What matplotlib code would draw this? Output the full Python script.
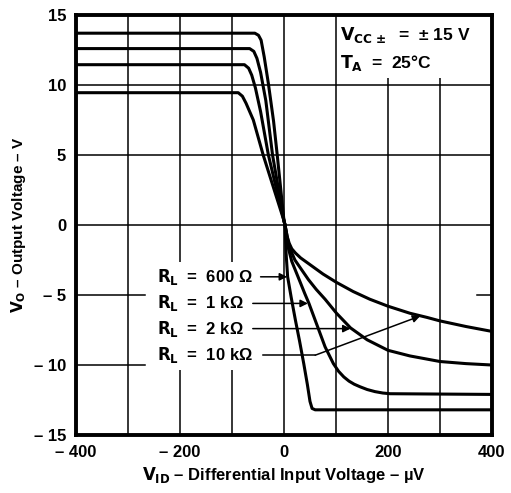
import matplotlib
matplotlib.use("Agg")
import matplotlib.pyplot as plt
from matplotlib.patches import Rectangle

# output voltage vs differential input voltage, four load resistances
rl_labels = ["600 Ω", "1 kΩ", "2 kΩ", "10 kΩ"]

vid_600 = [-400, -56, -49, -44, -38, -30, -20, -13, 0, 2, 4, 7, 14, 22, 30, 38, 45, 50, 54, 60, 400]
vo_600 = [13.7, 13.7, 13.55, 13.2, 12.0, 10.1, 7.4, 5.0, 0.3, 0, -2.0, -3.7, -5.2, -6.8, -8.3, -9.9, -11.4, -12.6, -13.1, -13.2, -13.2]

vid_1k = [-400, -66, -58, -52, -45, -35, -22, 0, 2, 8, 15, 27, 40, 48, 56, 65, 79, 95, 105, 115, 125, 135, 146, 160, 175, 190, 204, 400]
vo_1k = [12.6, 12.6, 12.4, 11.9, 10.9, 8.9, 5.0, 0.3, 0, -1.6, -2.6, -3.7, -4.9, -5.6, -6.4, -7.3, -8.7, -9.9, -10.45, -10.85, -11.15, -11.37, -11.55, -11.75, -11.9, -12.0, -12.05, -12.1]

vid_2k = [-400, -76, -68, -62, -55, -45, -30, 0, 2, 8, 14, 21, 34, 47, 62, 79, 101, 128, 160, 200, 242, 300, 350, 400]
vo_2k = [11.45, 11.45, 11.2, 10.7, 9.8, 8.1, 5.0, 0.3, 0, -1.2, -1.9, -2.5, -3.2, -3.9, -4.6, -5.3, -6.3, -7.35, -8.2, -8.95, -9.35, -9.75, -9.9, -10.0]

vid_10k = [-400, -88, -80, -73, -59, -40, 0, 2, 6, 10, 15, 22, 32, 47, 75, 101, 133, 165, 200, 242, 275, 300, 350, 400]
vo_10k = [9.45, 9.45, 9.2, 8.7, 7.5, 5.0, 0.3, 0, -0.8, -1.3, -1.7, -2.0, -2.35, -2.75, -3.5, -4.1, -4.75, -5.3, -5.8, -6.3, -6.6, -6.85, -7.25, -7.6]

x_ticks = [-400, -200, 0, 200, 400]
x_ticklabels = ["– 400", "– 200", "0", "200", "400"]
y_ticks = [-15, -10, -5, 0, 5, 10, 15]
y_ticklabels = ["– 15", "– 10", "– 5", "0", "5", "10", "15"]

fam = ["Liberation Sans Narrow", "Liberation Sans", "DejaVu Sans"]
plt.rcParams["font.family"] = fam
plt.rcParams["font.weight"] = "bold"
plt.rcParams["mathtext.fontset"] = "custom"
plt.rcParams["mathtext.rm"] = "Liberation Sans Narrow:bold"
plt.rcParams["mathtext.it"] = "Liberation Sans Narrow:bold"
plt.rcParams["mathtext.bf"] = "Liberation Sans Narrow:bold"

fig = plt.figure(figsize=(5.11, 4.93), dpi=100)
ax = fig.add_axes([0.1487, 0.1176, 0.8141, 0.852])

ax.set_xlim(-400, 400)
ax.set_ylim(-15, 15)

# grid (vertical every 100 uV, horizontal every 5 V)
for xv in range(-300, 400, 100):
    ax.axvline(xv, color="black", lw=1.1, zorder=1)
for yv in [10, 5, 0]:
    ax.axhline(yv, color="black", lw=1.1, zorder=1)
ax.axhline(-5, xmax=0.166, color="black", lw=1.1, zorder=1)
ax.axhline(-5, xmin=0.964, color="black", lw=1.1, zorder=1)
ax.axhline(-10, xmax=0.166, color="black", lw=1.1, zorder=1)

# white area behind the conditions text
ax.add_patch(Rectangle((0.64, 0.85), 0.36, 0.15, transform=ax.transAxes,
                       facecolor="white", edgecolor="none", zorder=2))

for xs, ys in [(vid_600, vo_600), (vid_1k, vo_1k), (vid_2k, vo_2k), (vid_10k, vo_10k)]:
    ax.plot(xs, ys, color="black", lw=2.2, solid_joinstyle="round",
            solid_capstyle="round", zorder=3)

# load labels with arrows
label_y = [-3.7, -5.6, -7.4, -9.3]
tip_x = [6, 46, 128, 262]
tip_y = [-3.7, -5.6, -7.4, -6.5]
start_x = [-45, -60, -60, -40]
for lab, ly, tx, ty, sx in zip(rl_labels, label_y, tip_x, tip_y, start_x):
    ax.text(-244, ly, r"$R_L$" + "  =  " + lab, ha="left", va="center",
            fontsize=12, zorder=4,
            bbox=dict(facecolor="white", edgecolor="none", pad=3.5))
    if lab == "10 kΩ":
        ax.plot([sx, 60], [ly, ly], color="black", lw=1.1, zorder=3)
        sx = 60
    ax.annotate("", xy=(tx, ty), xytext=(sx, ly),
                arrowprops=dict(arrowstyle="-|>", color="black", lw=1.1,
                                mutation_scale=11, shrinkA=0, shrinkB=0),
                zorder=4)

ax.text(0.635, 0.952, r"$V_{CC\,\pm}$" + "  =  ± 15 V", transform=ax.transAxes,
        ha="left", va="center", fontsize=12.5, zorder=4)
ax.text(0.635, 0.886, r"$T_A$" + "  =  25°C", transform=ax.transAxes,
        ha="left", va="center", fontsize=12.5, zorder=4)

ax.set_xticks(x_ticks)
ax.set_xticklabels(x_ticklabels)
ax.set_yticks(y_ticks)
ax.set_yticklabels(y_ticklabels)
ax.tick_params(length=0, labelsize=12, pad=7)
for lab in ax.get_xticklabels() + ax.get_yticklabels():
    lab.set_fontweight("bold")

for sp in ax.spines.values():
    sp.set_linewidth(2.8)
    sp.set_zorder(5)

ax.set_xlabel(r"$V_{ID}$" + " – Differential Input Voltage – µV", fontsize=12,
              fontweight="bold", labelpad=4)
ax.set_ylabel(r"$V_O$" + " – Output Voltage – V", fontsize=11,
              fontweight="bold", labelpad=4)

fig.savefig("out.png", dpi=100)
